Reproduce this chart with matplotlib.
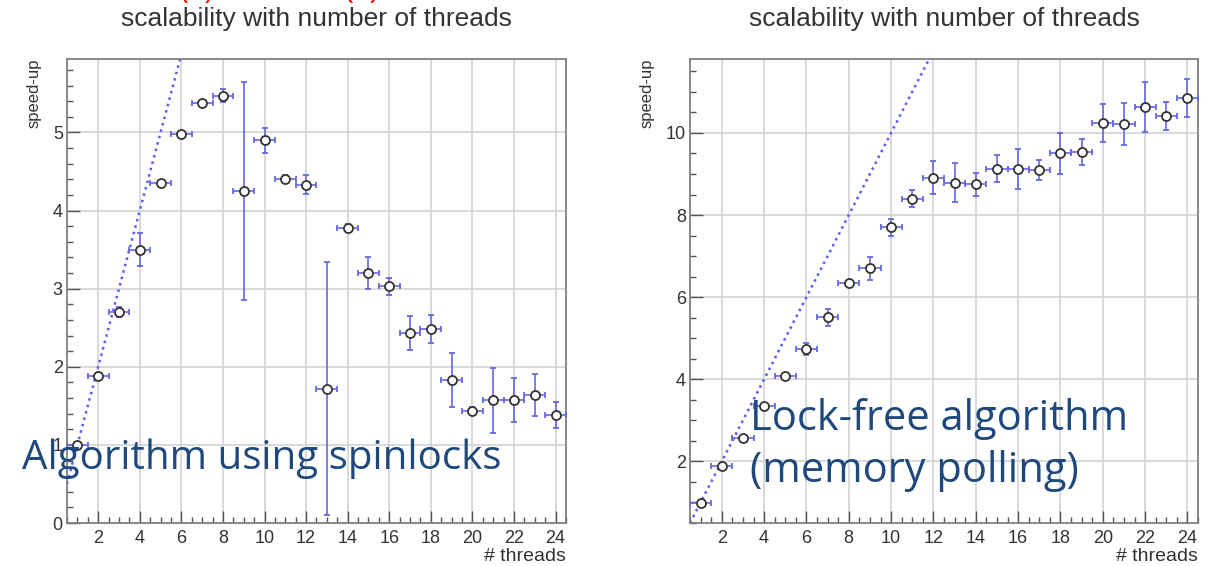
import numpy as np
import matplotlib.pyplot as plt
from matplotlib.ticker import MultipleLocator

# thread counts, one bin per thread
threads = list(range(1, 25))

# spinlock version: mean speed-up and error per thread count
speedup_spin = [1.00, 1.88, 2.70, 3.50, 4.35, 4.98, 5.38, 5.47, 4.25, 4.90, 4.41, 4.33,
                1.72, 3.78, 3.20, 3.03, 2.43, 2.48, 1.83, 1.44, 1.57, 1.57, 1.64, 1.38]
err_spin = [0.03, 0.04, 0.06, 0.21, 0.03, 0.04, 0.03, 0.08, 1.39, 0.16, 0.05, 0.12,
            1.62, 0.05, 0.20, 0.11, 0.22, 0.18, 0.35, 0.05, 0.42, 0.28, 0.27, 0.17]

# lock-free version (memory polling)
speedup_free = [0.99, 1.89, 2.57, 3.35, 4.07, 4.73, 5.51, 6.34, 6.71, 7.70, 8.40, 8.91,
                8.79, 8.75, 9.13, 9.13, 9.10, 9.50, 9.53, 10.25, 10.22, 10.63, 10.42, 10.85]
err_free = [0.04, 0.04, 0.05, 0.06, 0.05, 0.15, 0.21, 0.05, 0.28, 0.21, 0.21, 0.40,
            0.48, 0.28, 0.32, 0.49, 0.25, 0.51, 0.31, 0.46, 0.52, 0.60, 0.34, 0.47]

title = 'scalability with number of threads'
W, H = 1208, 566

plt.rcParams['font.family'] = ['Liberation Sans', 'DejaVu Sans']

fig = plt.figure(figsize=(W / 100, H / 100), dpi=100)


def px_axes(x0, y0, x1, y1):
    # axes rectangle given in pixel coords (top-left origin)
    return fig.add_axes([x0 / W, 1 - y1 / H, (x1 - x0) / W, (y1 - y0) / H])


def draw_panel(ax, y, yerr, ylim, ymajor, yminor, ymin_label):
    x = np.array(threads)
    ax.set_xlim(0.5, 24.5)
    ax.set_ylim(*ylim)

    # ideal linear scaling
    ideal = np.linspace(0.5, 24.5, 200)
    ax.plot(ideal, ideal, linestyle=':', color='#5a5aff', lw=1.8, zorder=2)

    ax.errorbar(x, y, xerr=0.5, yerr=yerr, fmt='o', ms=6.5, mfc='white',
                mec='#333333', mew=1.3, ecolor='#6868e0', elinewidth=1.2,
                capsize=2, capthick=1.2, zorder=3)

    ax.xaxis.set_minor_locator(MultipleLocator(0.5))
    ax.yaxis.set_minor_locator(MultipleLocator(yminor))
    ax.set_xticks(range(2, 25, 2))
    ax.set_yticks([v for v in np.arange(ymin_label, ylim[1], ymajor)])

    ax.grid(True, which='major', color='#cfcfcf', lw=1.1)
    ax.set_axisbelow(True)
    ax.tick_params(which='both', direction='in', colors='#555555', labelcolor='#333333',
                   labelsize=13, width=1)
    ax.tick_params(which='major', length=9)
    ax.tick_params(which='minor', length=4.5)
    ax.tick_params(axis='y', pad=3)
    ax.tick_params(axis='x', pad=5)
    for s in ax.spines.values():
        s.set_color('#808080')
        s.set_linewidth(1.3)

    ax.set_title(title, fontsize=19, color='#333333', pad=24)
    ax.set_xlabel('# threads', fontsize=14, color='#333333', loc='right', labelpad=1)
    ax.set_ylabel('speed-up', fontsize=12, color='#333333', loc='top', labelpad=8)


ax1 = px_axes(67, 59, 566, 523)
draw_panel(ax1, speedup_spin, err_spin, (0, 5.94), 1, 0.2, 0)

ax2 = px_axes(690, 59, 1198, 523)
draw_panel(ax2, speedup_free, err_free, (0.5, 11.8), 2, 0.5, 2)

# slide annotations on top of the plots
blue = '#1F497D'
fig.text(22 / W, 1 - 469 / H, 'Algorithm using spinlocks', fontsize=29,
         family='Open Sans', color=blue, va='baseline', ha='left')
fig.text(750 / W, 1 - 430 / H, 'Lock-free algorithm', fontsize=30,
         family='Open Sans', color=blue, va='baseline', ha='left')
fig.text(750 / W, 1 - 482 / H, '(memory polling)', fontsize=30,
         family='Open Sans', color=blue, va='baseline', ha='left')

# red brackets cut off at the top edge
for xp, ch in [(178, '('), (205, ')'), (343, '('), (370, ')')]:
    fig.text(xp / W, 1 - 3 / H, ch, fontsize=20, color='red', va='bottom', ha='left')

plt.savefig('out.png', dpi=100)
plt.close()
